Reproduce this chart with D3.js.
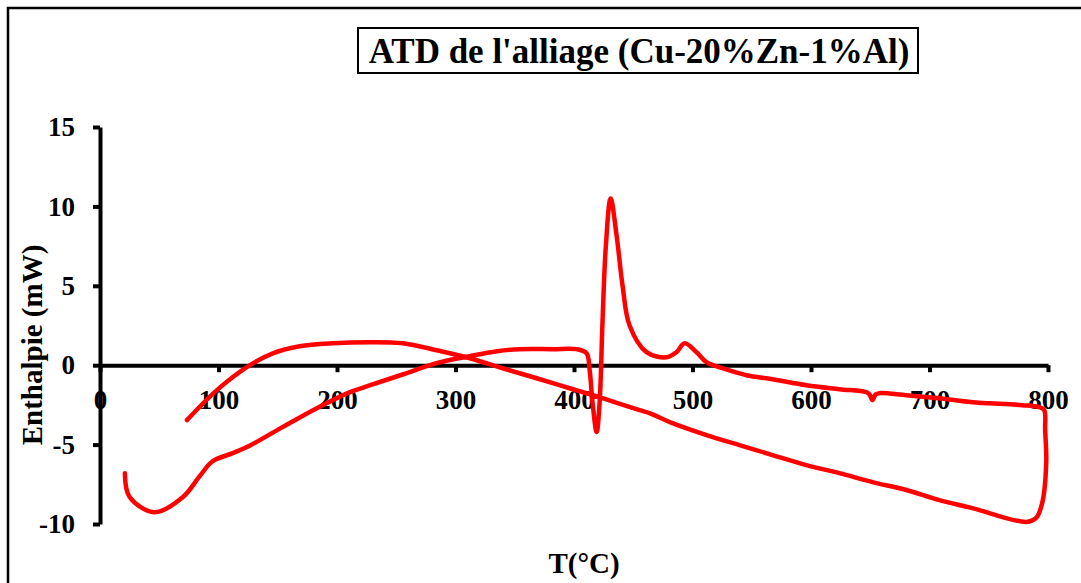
<!DOCTYPE html>
<html>
<head>
<meta charset="utf-8">
<script src="https://cdn.jsdelivr.net/npm/d3@7"></script>
<style>
  html, body { margin: 0; padding: 0; background: #fff; }
  svg { display: block; }
  .lbl { font-family: "Liberation Serif", serif; font-weight: 700; fill: #000; }
</style>
</head>
<body>
<svg id="chart" width="1081" height="583"></svg>
<script>
// Heating run (T in °C, enthalpy in mW)
const heatT = [21, 25, 46, 70, 84, 95, 112, 127, 154, 183, 211, 228, 256, 284, 312, 335, 354, 382, 402, 410.6, 413.2, 415.7, 419.1, 421.6, 424.1, 426.8, 430.9, 435.9, 441, 446.9, 461.2, 478, 486.5, 493.3, 503.4, 511.8, 525.3, 545.5, 567.5, 596.1, 624, 646.7, 649.5, 651.8, 654.5, 657.7, 680.4, 708.3, 736.1, 764.8, 778.2, 792.6, 796.8];
const heatH = [-6.8, -8.3, -9.26, -8.3, -7.0, -6.05, -5.54, -5.04, -3.9, -2.71, -1.7, -1.26, -0.57, 0.13, 0.57, 0.88, 1.01, 1.01, 1.01, 0.75, -0.31, -2.39, -4.21, -2.39, 2.83, 7.4, 10.5, 8.2, 5.0, 2.5, 0.82, 0.5, 0.82, 1.38, 0.82, 0.19, -0.19, -0.63, -0.88, -1.26, -1.51, -1.7, -1.85, -2.2, -1.85, -1.76, -1.89, -2.08, -2.33, -2.45, -2.52, -2.64, -2.83];

// Cooling run, from 800 °C back down
const coolT = [797.6, 798.5, 795.1, 790, 781.6, 736.1, 708.3, 680.4, 651.8, 624, 596.1, 567.5, 539.6, 511.8, 483.1, 463.7, 455.3, 424.1, 396.3, 368.5, 339.8, 312, 284.1, 255.5, 227.7, 196.5, 168.6, 145.9, 126.5, 98.7, 73.4];
const coolH = [-4.09, -6.17, -8.68, -9.62, -9.87, -9.0, -8.5, -7.86, -7.36, -6.8, -6.29, -5.66, -5.03, -4.4, -3.65, -3.02, -2.83, -2.08, -1.45, -0.82, -0.19, 0.44, 0.94, 1.38, 1.45, 1.38, 1.19, 0.75, 0.0, -1.57, -3.46];

const xTicks = [0, 100, 200, 300, 400, 500, 600, 700, 800];
const yTicks = [-10, -5, 0, 5, 10, 15];

const titleText = "ATD de l'alliage (Cu-20%Zn-1%Al)";
const xLabel = "T(°C)";
const yLabel = "Enthalpie (mW)";

const svg = d3.select("#chart");

// outer frame
svg.append("rect")
  .attr("x", 8).attr("y", 8)
  .attr("width", 1100).attr("height", 600)
  .attr("fill", "none").attr("stroke", "#000").attr("stroke-width", 2.5);

const x = d3.scaleLinear().domain([0, 800]).range([100, 1048]);
const y = d3.scaleLinear().domain([-10, 15]).range([524, 127]);

// title in its box
svg.append("rect")
  .attr("x", 358).attr("y", 28)
  .attr("width", 560).attr("height", 45)
  .attr("fill", "#fff").attr("stroke", "#000").attr("stroke-width", 2);
svg.append("text")
  .attr("class", "lbl")
  .attr("transform", "translate(639,63) scale(1,1.05)")
  .attr("text-anchor", "middle")
  .style("font-size", "35px")
  .text(titleText);

const fmt = d => String(d);

// x axis along H = 0
const xAxis = svg.append("g")
  .attr("transform", `translate(0,${y(0)})`)
  .call(d3.axisBottom(x).tickValues(xTicks).tickFormat(fmt)
    .tickSizeInner(7).tickSizeOuter(0).tickPadding(18));
xAxis.attr("font-family", null).attr("font-size", null);
xAxis.select(".domain").attr("stroke", "#000").attr("stroke-width", 4);
xAxis.selectAll(".tick line").attr("stroke", "#000").attr("stroke-width", 4);
xAxis.selectAll(".tick text").attr("class", "lbl").attr("fill", "#000").style("font-size", "27px");

// y axis at T = 0
const yAxis = svg.append("g")
  .attr("transform", `translate(${x(0)},0)`)
  .call(d3.axisLeft(y).tickValues(yTicks).tickFormat(fmt)
    .tickSizeInner(7).tickSizeOuter(0).tickPadding(18));
yAxis.attr("font-family", null).attr("font-size", null);
yAxis.select(".domain").attr("stroke", "#000").attr("stroke-width", 4);
yAxis.selectAll(".tick line").attr("stroke", "#000").attr("stroke-width", 4);
yAxis.selectAll(".tick text").attr("class", "lbl").attr("fill", "#000").style("font-size", "27px");

// axis titles
svg.append("text")
  .attr("class", "lbl")
  .attr("x", 584).attr("y", 573)
  .attr("text-anchor", "middle")
  .style("font-size", "29px")
  .text(xLabel);
svg.append("text")
  .attr("class", "lbl")
  .attr("transform", "translate(42,345) rotate(-90)")
  .attr("text-anchor", "middle")
  .style("font-size", "29px")
  .text(yLabel);

// DTA trace: heating then cooling as one continuous loop
const pts = heatT.map((t, i) => [t, heatH[i]])
  .concat(coolT.map((t, i) => [t, coolH[i]]));
const line = d3.line()
  .x(d => x(d[0]))
  .y(d => y(d[1]))
  .curve(d3.curveCatmullRom.alpha(0.5));
svg.append("path")
  .datum(pts)
  .attr("d", line)
  .attr("fill", "none")
  .attr("stroke", "#ff0000")
  .attr("stroke-width", 4.5)
  .attr("stroke-linejoin", "round")
  .attr("stroke-linecap", "round");
</script>
</body>
</html>
